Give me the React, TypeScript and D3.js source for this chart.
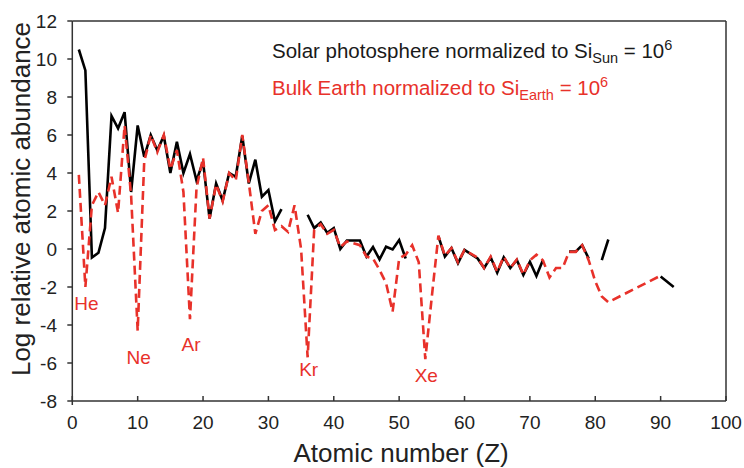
import React from "react";
import * as d3 from "d3";

// Solar photosphere (black) — NaN = no data (line break)
const solarZ = [1,2,3,4,5,6,7,8,9,10,11,12,13,14,15,16,17,18,19,20,21,22,23,24,25,26,27,28,29,30,31,32,33,36,37,38,39,40,41,42,44,45,46,47,48,49,50,51,52,56,57,58,59,60,62,63,64,65,66,67,68,69,70,71,72,73,76,77,78,79,80,81,82,83,90,92];
const solarLog = [10.5,9.4,-0.45,-0.2,1.1,7.0,6.35,7.2,3.0,6.5,4.85,6.0,5.2,5.95,4.0,5.65,4.0,5.0,3.6,4.6,1.6,3.45,2.55,4.0,3.8,5.95,3.45,4.7,2.75,3.1,1.45,2.1,NaN,1.8,1.1,1.4,0.85,1.1,0.0,0.45,0.45,-0.4,0.1,-0.55,0.12,-0.02,0.47,-0.5,NaN,0.68,-0.4,0.05,-0.75,-0.05,-0.5,-1.0,-0.44,-1.25,-0.44,-1.0,-0.58,-1.37,-0.67,-1.42,-0.58,NaN,-0.14,-0.14,0.2,-0.5,NaN,-0.58,0.5,NaN,-1.45,-2.0];

// Bulk Earth (red dashed)
const earthZ = [1,2,3,4,5,6,7,8,9,10,11,12,13,14,15,16,17,18,19,20,21,22,23,24,25,26,27,28,29,30,31,32,33,34,35,36,37,38,39,40,41,42,44,45,46,47,48,49,50,51,52,53,54,55,56,57,58,59,60,62,63,64,65,66,67,68,69,70,71,72,73,74,75,76,77,78,79,80,81,82,90];
const earthLog = [3.9,-2.0,2.3,3.0,2.3,3.8,1.9,6.5,2.8,-4.3,4.6,6.0,5.1,6.0,4.2,5.2,3.0,-3.7,3.2,4.8,1.6,3.4,2.5,4.0,3.6,6.0,3.5,0.8,2.0,2.3,1.0,1.2,0.9,2.3,0.0,-5.7,1.0,1.3,0.8,1.0,0.1,0.4,0.2,-0.4,-0.5,-1.1,-1.8,-3.3,-0.5,-0.3,0.2,-0.7,-5.8,-2.5,0.7,-0.35,0.05,-0.7,-0.05,-0.45,-1.0,-0.4,-1.2,-0.4,-1.0,-0.55,-1.35,-0.6,-0.3,-0.6,-1.5,-1.0,-1.0,-0.15,-0.15,0.2,-0.6,-1.7,-2.5,-2.8,-1.4];

const noble = ["He","Ne","Ar","Kr","Xe"];
const nobleZ = [2,10,18,36,54];
const nobleLabelY = [-3.2,-6.05,-5.35,-6.7,-7.0];

const xTicks = [0,10,20,30,40,50,60,70,80,90,100];
const yTicks = [-8,-6,-4,-2,0,2,4,6,8,10,12];

const RED = "#e8312a";
const FONT = "'Liberation Sans', Arial, Helvetica, sans-serif";

export default function App() {
  const W = 744, H = 468;
  const x = d3.scaleLinear().domain([0, 100]).range([72.3, 726]);
  const y = d3.scaleLinear().domain([-8, 12]).range([401, 21]);

  const solarPts = solarZ.map((z, i) => [z, solarLog[i]] as [number, number]);
  const earthPts = earthZ.map((z, i) => [z, earthLog[i]] as [number, number]);
  const line = d3.line<[number, number]>()
    .defined(d => !isNaN(d[1]))
    .x(d => x(d[0]))
    .y(d => y(d[1]));

  return (
    <svg width={W} height={H} style={{ position: "absolute", left: 0, top: 0, background: "#fff" }} fontFamily={FONT}>
      <rect x={0} y={0} width={W} height={H} fill="#fff" />
      {/* frame */}
      <line x1={x(0)} x2={x(100)} y1={y(12)} y2={y(12)} stroke="#333" strokeWidth={1.5} />
      <line x1={x(100)} x2={x(100)} y1={y(12)} y2={y(-8)} stroke="#333" strokeWidth={1.5} />
      <line x1={x(0)} x2={x(100)} y1={y(-8)} y2={y(-8)} stroke="#333" strokeWidth={1.5} />
      <line x1={x(0)} x2={x(0)} y1={y(12)} y2={y(-8) + 4} stroke="#333" strokeWidth={1.5} />
      {yTicks.map(t => (
        <g key={"y" + t}>
          <line x1={x(0) - 5} x2={x(0)} y1={y(t)} y2={y(t)} stroke="#333" strokeWidth={1.5} />
          <text x={57} y={y(t)} dy="0.36em" textAnchor="end" fontSize={19} fill="#222">{t}</text>
        </g>
      ))}
      {xTicks.map(t => (
        <g key={"x" + t}>
          <line x1={x(t)} x2={x(t)} y1={y(-8)} y2={y(-8) - 5} stroke="#333" strokeWidth={1.5} />
          <text x={x(t)} y={429} textAnchor="middle" fontSize={19} fill="#222">{t}</text>
        </g>
      ))}
      <text x={(x(0) + x(100)) / 2 + 2} y={462} textAnchor="middle" fontSize={26} fill="#222">Atomic number (Z)</text>
      <text transform={`translate(30, ${(y(12) + y(-8)) / 2 - 12}) rotate(-90)`} textAnchor="middle" fontSize={26} fill="#222">Log relative atomic abundance</text>

      {/* data */}
      <path d={line(solarPts) || ""} fill="none" stroke="#000" strokeWidth={2.6} strokeLinejoin="miter" />
      <path d={line(earthPts) || ""} fill="none" stroke={RED} strokeWidth={2.6} strokeDasharray="9,5" />

      {noble.map((n, i) => (
        <text key={n} x={x(nobleZ[i]) + 1} y={y(nobleLabelY[i])} textAnchor="middle" fontSize={19} fill={RED}>{n}</text>
      ))}

      {/* legend */}
      <text x={272} y={58} fontSize={20.5} fill="#1a1a1a">
        <tspan>Solar photosphere normalized to Si</tspan>
        <tspan fontSize={14.5} dy={5}>Sun</tspan>
        <tspan dy={-5}> = 10</tspan>
        <tspan fontSize={14.5} dy={-8}>6</tspan>
      </text>
      <text x={272} y={95} fontSize={20.5} fill={RED}>
        <tspan>Bulk Earth normalized to Si</tspan>
        <tspan fontSize={14.5} dy={5}>Earth</tspan>
        <tspan dy={-5}> = 10</tspan>
        <tspan fontSize={14.5} dy={-8}>6</tspan>
      </text>
    </svg>
  );
}
